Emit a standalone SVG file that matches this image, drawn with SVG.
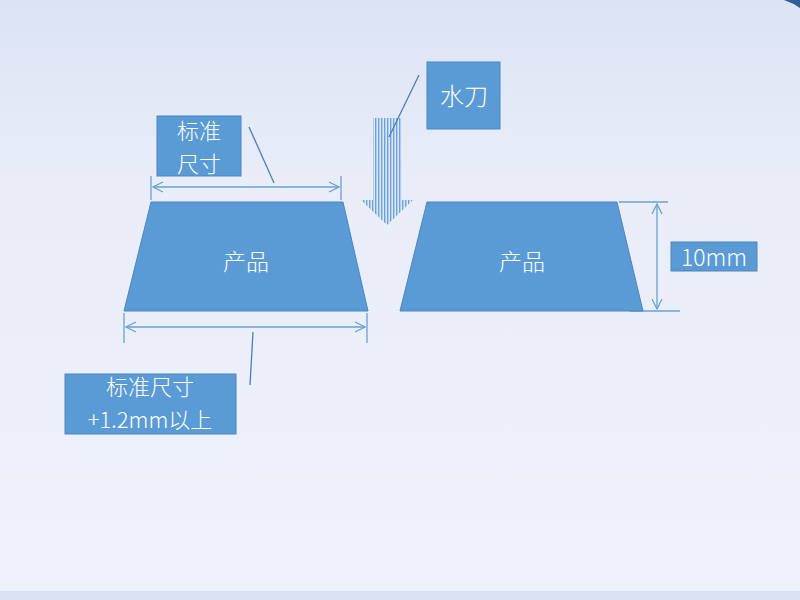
<svg xmlns="http://www.w3.org/2000/svg" width="800" height="600" viewBox="0 0 800 600">
<defs>
<linearGradient id="bg" x1="0" y1="0" x2="0" y2="1">
<stop offset="0" stop-color="#dce3f3"/>
<stop offset="0.3" stop-color="#e8edf8"/>
<stop offset="1" stop-color="#eef2fb"/>
</linearGradient>
<pattern id="stripes" width="3" height="10" patternUnits="userSpaceOnUse">
<rect width="3" height="10" fill="#dce8f6"/>
<rect width="1.4" height="10" fill="#6fa2d8"/>
</pattern>
<marker id="ah" viewBox="0 0 12 12" refX="11" refY="6" markerWidth="12" markerHeight="12" markerUnits="userSpaceOnUse" orient="auto-start-reverse">
<path d="M1,1 L11,6 L1,11" fill="none" stroke="#6b9fd6" stroke-width="1.3"/>
</marker>
<style>
.shape{fill:#5b9bd5;stroke:#4a86c1;stroke-width:1}
.lbl{fill:#5b9bd5;stroke:#4a86c1;stroke-width:1}
.t{fill:#ffffff;font-family:"Noto Sans CJK SC","Noto Sans",sans-serif;text-anchor:middle;font-weight:300}
.dim{stroke:#6b9fd6;stroke-width:1.3;fill:none}
.call{stroke:#4a7fbf;stroke-width:1.3;fill:none}
</style>
</defs>
<rect width="800" height="600" fill="url(#bg)"/>
<rect x="0" y="591" width="800" height="9" fill="#dbe2f1"/>
<path d="M784,0 Q793,3 800,8 L800,0 Z" fill="#2e5d9c"/>

<g id="waterjet-arrow">
<path d="M373,118 L402,118 L402,200 L413,200 L387,225 L361,200 L373,200 Z" fill="url(#stripes)"/>
</g>

<g id="connectors">
<line class="dim" x1="151" y1="176" x2="151" y2="200"/>
<line class="dim" x1="341" y1="176" x2="341" y2="200"/>
<line class="dim" x1="153" y1="187" x2="339" y2="187" marker-start="url(#ah)" marker-end="url(#ah)"/>
<line class="dim" x1="124" y1="313" x2="124" y2="343"/>
<line class="dim" x1="367" y1="313" x2="367" y2="343"/>
<line class="dim" x1="126" y1="327" x2="365" y2="327" marker-start="url(#ah)" marker-end="url(#ah)"/>
<line class="dim" x1="619" y1="202" x2="668" y2="202"/>
<line class="dim" x1="630" y1="311" x2="680" y2="311"/>
<line class="dim" x1="657" y1="204" x2="657" y2="309" marker-start="url(#ah)" marker-end="url(#ah)"/>
<line class="call" x1="249" y1="127" x2="274" y2="183"/>
<line class="call" x1="253" y1="332" x2="250" y2="385"/>
<line class="call" x1="419" y1="75" x2="389" y2="137"/>
</g>

<g id="product-left">
<path class="shape" d="M151,202 L343,202 L368,311 L124,311 Z"/>
<text class="t" x="246" y="270" font-size="23">产品</text>
</g>

<g id="product-right">
<path class="shape" d="M427,202 L617,202 L643,311 L400,311 Z"/>
<text class="t" x="522" y="270" font-size="23">产品</text>
</g>

<g id="label-standard">
<rect class="lbl" x="157" y="116" width="84" height="60"/>
<text class="t" font-size="22"><tspan x="199" y="139">标准</tspan><tspan x="199" y="171.5">尺寸</tspan></text>
</g>

<g id="label-standard-plus">
<rect class="lbl" x="65" y="374" width="171" height="60"/>
<text class="t" font-size="22"><tspan x="150" y="395">标准尺寸</tspan><tspan x="150" y="427.5">+1.2mm以上</tspan></text>
</g>

<g id="label-waterjet">
<rect class="lbl" x="427" y="62" width="73" height="67"/>
<text class="t" x="464" y="105" font-size="24">水刀</text>
</g>

<g id="label-10mm">
<rect class="lbl" x="671" y="242" width="86" height="29"/>
<text class="t" x="714" y="266" font-size="23">10mm</text>
</g>
</svg>
